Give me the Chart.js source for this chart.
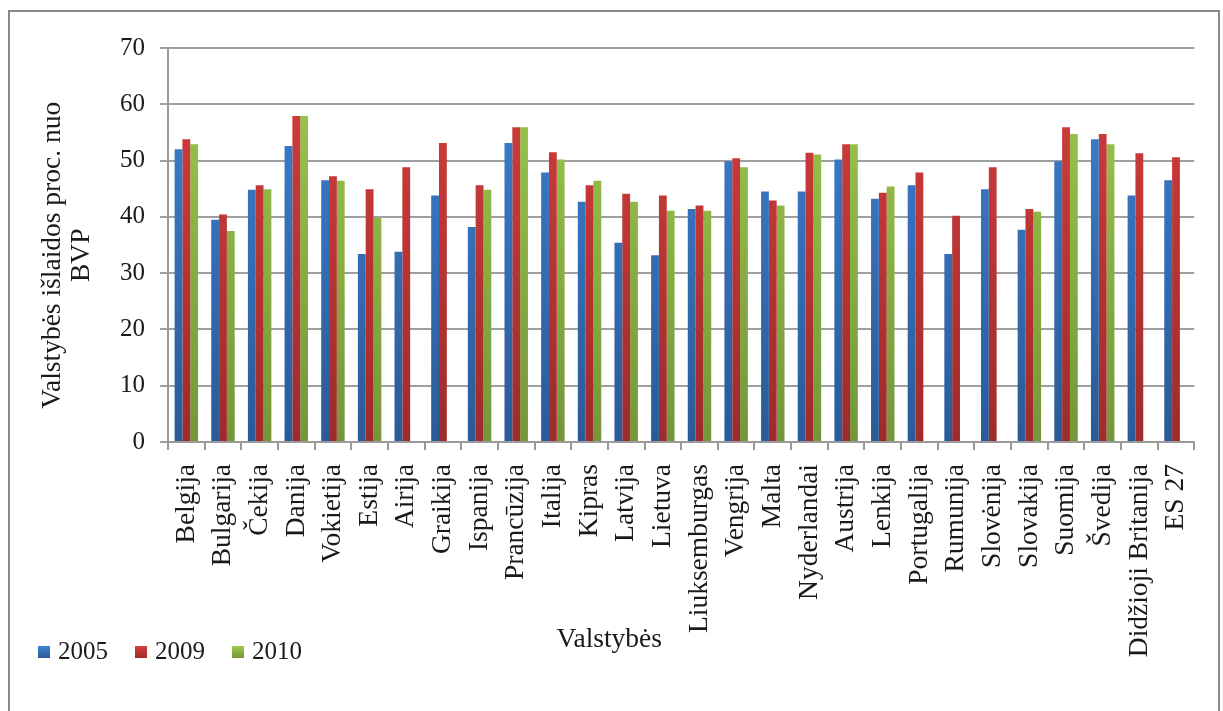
<!DOCTYPE html>
<html lang="lt">
<head>
<meta charset="utf-8">
<title>Valstybės išlaidos</title>
<script src="https://cdn.jsdelivr.net/npm/chart.js@4.4.1/dist/chart.umd.min.js"></script>
<style>
  html, body { margin: 0; padding: 0; background: #fff; overflow: hidden; }
  #wrap { position: relative; width: 1223px; height: 711px; }
  #frame {
    position: absolute; left: 8px; top: 10px; width: 1212px; height: 720px;
    border: 2px solid #8a8a8a; box-sizing: border-box;
  }
  #chart { position: absolute; left: 0; top: 0; }
</style>
</head>
<body>
<div id="wrap">
  <div id="frame"></div>
  <canvas id="chart" width="1223" height="711"></canvas>
</div>
<script>
const countries = ['Belgija', 'Bulgarija', 'Čekija', 'Danija', 'Vokietija', 'Estija', 'Airija', 'Graikija',
  'Ispanija', 'Prancūzija', 'Italija', 'Kipras', 'Latvija', 'Lietuva', 'Liuksemburgas', 'Vengrija', 'Malta',
  'Nyderlandai', 'Austrija', 'Lenkija', 'Portugalija', 'Rumunija', 'Slovėnija', 'Slovakija', 'Suomija',
  'Švedija', 'Didžioji Britanija', 'ES 27'];

const years = ['2005', '2009', '2010'];

const values2005 = [52.0, 39.5, 44.8, 52.6, 46.5, 33.4, 33.8, 43.8, 38.2, 53.1, 47.9, 42.7, 35.4, 33.2,
  41.4, 49.9, 44.5, 44.5, 50.2, 43.2, 45.6, 33.4, 44.9, 37.7, 49.9, 53.8, 43.8, 46.5];
const values2009 = [53.8, 40.4, 45.6, 57.9, 47.2, 44.9, 48.8, 53.1, 45.6, 55.9, 51.5, 45.6, 44.1, 43.8,
  42.0, 50.4, 42.9, 51.4, 52.9, 44.3, 47.9, 40.2, 48.8, 41.4, 55.9, 54.7, 51.3, 50.6];
const values2010 = [52.9, 37.5, 44.9, 57.9, 46.4, 39.8, null, null, 44.8, 55.9, 50.2, 46.4, 42.7, 41.1,
  41.1, 48.8, 42.0, 51.1, 52.9, 45.4, null, null, null, 40.9, 54.7, 52.9, null, null];

const yTicks = [0, 10, 20, 30, 40, 50, 60, 70];

const FONT = "'Liberation Serif', 'Times New Roman', serif";
const TEXT = '#1a1a1a';

// top / bottom shades for each series
const shades = [
  ['#3f82d4', '#2b5a97'],
  ['#d63f3e', '#9e2b2a'],
  ['#a0cb4d', '#74963a']
];

function barFill(i) {
  return (ctx) => {
    const area = ctx.chart.chartArea;
    if (!area) return shades[i][0];
    const g = ctx.chart.ctx.createLinearGradient(0, area.top, 0, area.bottom);
    g.addColorStop(0, shades[i][0]);
    g.addColorStop(1, shades[i][1]);
    return g;
  };
}

// legend row at the bottom-left plus the x axis caption beside it;
// drawn by hand so the long rotated labels keep the full scale height
const bottomRow = {
  id: 'bottomRow',
  afterDraw(chart) {
    const { ctx, chartArea } = chart;
    const rowY = 652;
    ctx.save();
    ctx.textBaseline = 'middle';
    ctx.textAlign = 'left';
    ctx.font = '25px ' + FONT;
    let x = 38;
    chart.data.datasets.forEach((ds, i) => {
      const g = ctx.createLinearGradient(0, rowY - 6, 0, rowY + 6);
      g.addColorStop(0, shades[i][0]);
      g.addColorStop(1, shades[i][1]);
      ctx.fillStyle = g;
      ctx.fillRect(x, rowY - 6, 12, 12);
      ctx.fillStyle = TEXT;
      ctx.fillText(ds.label, x + 20, rowY);
      x += 20 + ctx.measureText(ds.label).width + 27;
    });

    ctx.font = '27.5px ' + FONT;
    ctx.textAlign = 'center';
    const cx = chartArea.left + (chartArea.right - chartArea.left) * 0.43;
    ctx.fillText('Valstybės', cx, rowY - 12);
    ctx.restore();
  }
};

new Chart(document.getElementById('chart'), {
  type: 'bar',
  data: {
    labels: countries,
    datasets: [values2005, values2009, values2010].map((d, i) => ({
      label: years[i],
      data: d,
      backgroundColor: barFill(i),
      borderWidth: 0,
      categoryPercentage: 0.64,
      barPercentage: 1.0
    }))
  },
  options: {
    responsive: false,
    animation: false,
    devicePixelRatio: 1,
    layout: { padding: { left: 28, right: 0, top: 48, bottom: 14 } },
    plugins: {
      tooltip: { enabled: false },
      legend: { display: false }
    },
    scales: {
      x: {
        afterFit(scale) { scale.height = 255; },
        grid: {
          offset: true,
          drawOnChartArea: false,
          drawTicks: true,
          tickLength: 8,
          color: '#9a9a9a',
          lineWidth: 2
        },
        border: { color: '#9a9a9a', width: 2 },
        ticks: {
          autoSkip: false,
          maxRotation: 90,
          minRotation: 90,
          padding: 14,
          color: TEXT,
          font: { family: FONT, size: 27.5 }
        }
      },
      y: {
        min: yTicks[0],
        max: yTicks[yTicks.length - 1],
        afterFit(scale) { scale.width = 140; },
        afterBuildTicks(scale) { scale.ticks = yTicks.map(v => ({ value: v })); },
        grid: {
          color: '#9f9f9f',
          lineWidth: 2,
          tickLength: 8
        },
        border: { color: '#9a9a9a', width: 2 },
        ticks: {
          padding: 15,
          color: TEXT,
          font: { family: FONT, size: 25 }
        },
        title: {
          display: true,
          // trailing spaces nudge the rotated caption a little lower
          text: ['Valstybės išlaidos proc. nuo   ', 'BVP   '],
          color: TEXT,
          font: { family: FONT, size: 27.5, lineHeight: 1.06 },
          padding: { top: 10, bottom: 0 }
        }
      }
    }
  },
  plugins: [bottomRow]
});
</script>
</body>
</html>
